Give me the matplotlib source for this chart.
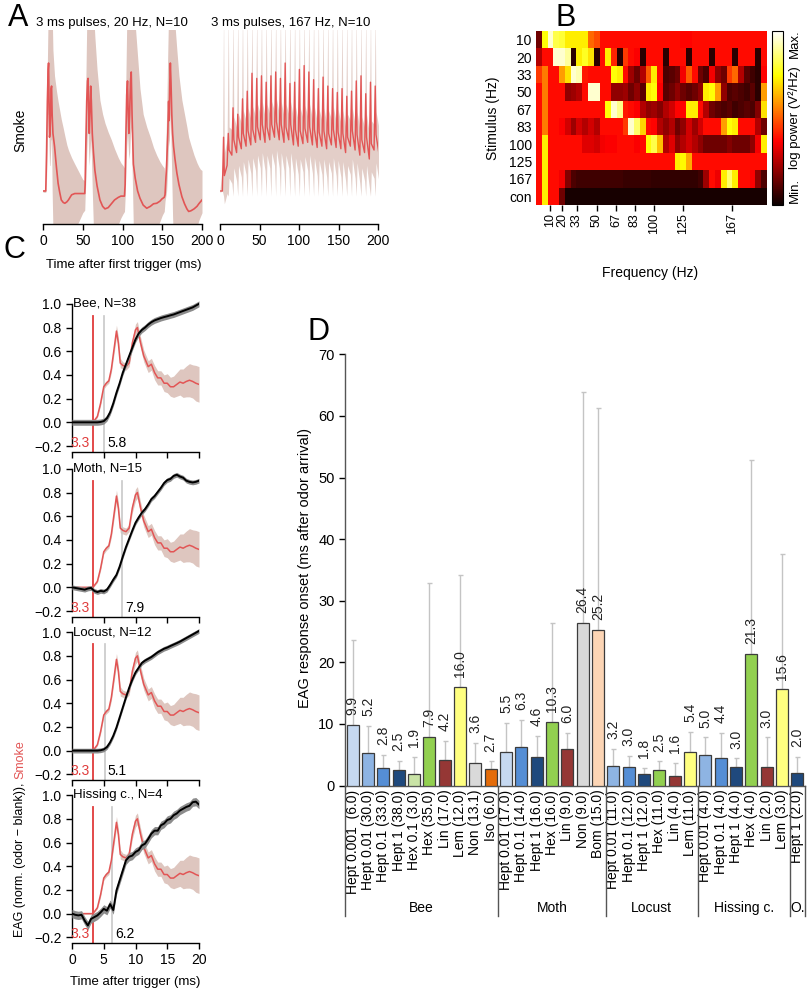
import numpy as np
import matplotlib.pyplot as plt
from matplotlib.ticker import FuncFormatter

plt.rcParams['font.family'] = ['Liberation Sans', 'DejaVu Sans']
plt.rcParams['axes.linewidth'] = 1.0
plt.rcParams['xtick.major.width'] = 1.0
plt.rcParams['ytick.major.width'] = 1.0
plt.rcParams['xtick.major.size'] = 4
plt.rcParams['ytick.major.size'] = 4

# ---------------- A: smoke, 20 Hz (mean, upper / lower edge of band) ----------------
a20_t = [0, 3.5, 4.5, 5.5, 6.5, 7.0, 7.6, 8.2, 8.8, 9.5, 10.2, 10.8, 11.5, 12.5, 14.5, 17, 19, 21, 23, 25.5,
         27.5, 30, 32, 36, 40, 45, 50, 52.5,
         53.0, 54.0, 55.0, 56.0, 56.7, 57.4, 58.2, 59.0, 60.0, 60.8, 62.0, 63.5, 65.3, 68, 71.6, 75, 78, 82,
         86, 90, 94.7, 98, 100.5, 102.5,
         103.3, 104.3, 105.3, 106.3, 107.2, 108.0, 109.0, 110.0, 111.0, 112.0, 113.7, 116, 119, 122, 126,
         130.5, 135, 139, 143, 147, 150, 152.5,
         153.5, 155.5, 157, 158, 158.7, 159.5, 160.2, 161, 162, 163, 164.2, 166, 168.4, 171, 174.7, 178, 181,
         183.2, 186, 190, 193.7, 196, 198, 200]
a20_mean = [0, 0, 0.3, 0.7, 0.95, 1.0, 0.7, 0.42, 0.45, 0.6, 0.8, 0.82, 0.6, 0.45, 0.35, 0.18, 0.06, -0.01, -0.07,
            -0.09, -0.096, -0.085, -0.07, -0.03, -0.02, -0.02, -0.02, -0.02,
            0.05, 0.4, 0.7, 0.86, 0.88, 0.65, 0.45, 0.6, 0.82, 0.7, 0.45, 0.3, 0.16, 0.04, -0.07, -0.12, -0.14,
            -0.13, -0.1, -0.07, -0.05, -0.04, -0.04, -0.04,
            0.05, 0.45, 0.75, 0.86, 0.6, 0.45, 0.6, 0.85, 0.93, 0.6, 0.21, 0.1, 0.0, -0.057, -0.11, -0.135,
            -0.12, -0.1, -0.096, -0.08, -0.06, -0.05,
            -0.03, 0.2, 0.45, 0.7, 0.55, 0.85, 1.0, 0.85, 0.6, 0.45, 0.35, 0.25, 0.14, 0.05, -0.044, -0.1,
            -0.14, -0.16, -0.155, -0.14, -0.12, -0.1, -0.085, -0.07]
a20_hi = [0.01, 0.01, 0.5, 1.0, 1.4, 1.4, 1.4, 1.4, 1.4, 1.4, 1.4, 1.4, 1.4, 1.1, 0.9, 0.78, 0.7, 0.63, 0.56,
          0.49, 0.43, 0.36, 0.32, 0.26, 0.21, 0.15, 0.09, 0.08,
          0.2, 0.9, 1.3, 1.4, 1.4, 1.4, 1.4, 1.4, 1.4, 1.4, 1.4, 1.4, 1.2, 0.95, 0.71, 0.6, 0.53, 0.46, 0.4,
          0.33, 0.26, 0.22, 0.2, 0.18,
          0.2, 0.9, 1.3, 1.4, 1.4, 1.4, 1.4, 1.4, 1.4, 1.4, 1.4, 1.3, 1.05, 0.8, 0.6, 0.5, 0.42, 0.34, 0.28,
          0.23, 0.2, 0.18,
          0.1, 0.6, 1.1, 1.4, 1.4, 1.4, 1.4, 1.4, 1.4, 1.4, 1.4, 1.3, 1.1, 0.9, 0.71, 0.6, 0.5, 0.42, 0.36,
          0.28, 0.22, 0.19, 0.17, 0.16]
a20_lo = [-0.01, -0.01, 0.1, 0.4, 0.6, 0.6, 0.35, 0.2, 0.2, 0.3, 0.4, 0.4, 0.0, -0.3, -0.4, -0.4, -0.4, -0.4,
          -0.4, -0.4, -0.4, -0.4, -0.38, -0.35, -0.3, -0.24, -0.17, -0.15,
          -0.05, 0.1, 0.3, 0.45, 0.45, 0.3, 0.2, 0.3, 0.4, 0.3, 0.0, -0.3, -0.4, -0.4, -0.4, -0.4, -0.4,
          -0.4, -0.38, -0.32, -0.26, -0.21, -0.18, -0.16,
          -0.05, 0.15, 0.35, 0.45, 0.35, 0.25, 0.3, 0.45, 0.5, 0.2, -0.3, -0.4, -0.4, -0.4, -0.4, -0.4,
          -0.4, -0.36, -0.3, -0.24, -0.19, -0.16,
          -0.08, 0.0, 0.2, 0.4, 0.35, 0.5, 0.6, 0.4, 0.1, -0.2, -0.4, -0.4, -0.4, -0.4, -0.4, -0.4, -0.4,
          -0.4, -0.4, -0.35, -0.28, -0.23, -0.2, -0.17]

# ---------------- A: smoke, 167 Hz (value before each pulse, peak of each pulse) ----------------
a167_period = 6.0
a167_first = 3.0
a167_trough = [0.0, 0.2, 0.28, 0.3, 0.33, 0.35, 0.36, 0.38, 0.4, 0.38, 0.4, 0.42, 0.4, 0.38, 0.4, 0.36, 0.35,
               0.37, 0.38, 0.36, 0.34, 0.35, 0.33, 0.36, 0.34, 0.33, 0.3, 0.35, 0.32, 0.28, 0.3, 0.25, 0.32, 0.3]
a167_peak = [0.42, 0.45, 0.65, 0.6, 0.72, 0.78, 0.92, 0.88, 0.9, 0.85, 0.9, 0.93, 0.88, 1.0, 0.84, 0.85, 0.95,
             0.98, 0.93, 0.87, 0.8, 0.89, 0.82, 0.8, 0.77, 0.8, 0.74, 0.78, 0.86, 0.9, 0.76, 0.85, 0.82]

# ---------------- B: power spectra (0 = min, 1 = max), columns every 5 Hz from 0 Hz ----------------
b_rows = ['10', '20', '33', '50', '67', '83', '100', '125', '167', 'con']
b_freq_ticks = [10, 20, 33, 50, 67, 83, 100, 125, 167]
b_bin = 5.0
b_10 = [0.15, 0.75, 0.95, 0.82, 0.80, 0.72, 0.72, 0.72, 0.72, 0.52, 0.48, 0.38, 0.38, 0.38, 0.38, 0.38, 0.38,
        0.38, 0.38, 0.38, 0.38, 0.38, 0.38, 0.38, 0.38, 0.37, 0.37, 0.38, 0.38, 0.38, 0.38, 0.38, 0.38, 0.38,
        0.38, 0.38, 0.38, 0.38, 0.38, 0.38]
b_20 = [0.25, 0.38, 0.38, 0.95, 0.95, 0.90, 0.05, 0.72, 0.78, 0.70, 0.05, 0.38, 0.72, 0.42, 0.05, 0.45, 0.38,
        0.36, 0.05, 0.38, 0.38, 0.38, 0.05, 0.38, 0.38, 0.38, 0.05, 0.38, 0.38, 0.38, 0.05, 0.38, 0.38, 0.38,
        0.05, 0.38, 0.38, 0.38, 0.05, 0.38]
b_33 = [0.45, 0.55, 0.38, 0.38, 0.60, 0.70, 0.95, 0.92, 0.40, 0.38, 0.38, 0.38, 0.38, 0.75, 0.72, 0.38, 0.22,
        0.15, 0.25, 0.50, 0.72, 0.38, 0.10, 0.12, 0.15, 0.35, 0.50, 0.38, 0.15, 0.10, 0.35, 0.20, 0.15, 0.45,
        0.52, 0.25, 0.12, 0.08, 0.05, 0.37]
b_50 = [0.38, 0.55, 0.38, 0.38, 0.38, 0.20, 0.22, 0.25, 0.38, 0.95, 0.95, 0.38, 0.38, 0.20, 0.20, 0.22, 0.15,
        0.20, 0.12, 0.72, 0.75, 0.36, 0.12, 0.15, 0.20, 0.15, 0.12, 0.15, 0.20, 0.72, 0.75, 0.60, 0.20, 0.10,
        0.12, 0.10, 0.08, 0.12, 0.05, 0.60]
b_67 = [0.38, 0.55, 0.38, 0.38, 0.38, 0.38, 0.38, 0.38, 0.38, 0.38, 0.38, 0.38, 0.75, 0.95, 0.88, 0.40, 0.38,
        0.36, 0.25, 0.20, 0.22, 0.18, 0.25, 0.30, 0.37, 0.37, 0.72, 0.72, 0.38, 0.25, 0.15, 0.12, 0.10, 0.12,
        0.08, 0.10, 0.12, 0.10, 0.18, 0.70]
b_83 = [0.38, 0.55, 0.38, 0.38, 0.36, 0.30, 0.22, 0.30, 0.25, 0.30, 0.25, 0.38, 0.38, 0.38, 0.38, 0.45, 0.95,
        0.85, 0.68, 0.38, 0.37, 0.25, 0.20, 0.25, 0.15, 0.20, 0.30, 0.22, 0.30, 0.38, 0.38, 0.38, 0.60, 0.75,
        0.72, 0.38, 0.38, 0.38, 0.25, 0.15]
b_100 = [0.38, 0.72, 0.38, 0.38, 0.38, 0.38, 0.38, 0.38, 0.32, 0.32, 0.30, 0.35, 0.36, 0.36, 0.38, 0.38, 0.38,
         0.36, 0.38, 0.75, 0.82, 0.65, 0.25, 0.32, 0.20, 0.25, 0.30, 0.25, 0.20, 0.15, 0.15, 0.15, 0.15, 0.18,
         0.15, 0.15, 0.15, 0.20, 0.35, 0.72]
b_125 = [0.38, 0.72, 0.38, 0.38, 0.38, 0.38, 0.38, 0.38, 0.38, 0.38, 0.38, 0.38, 0.38, 0.38, 0.38, 0.38, 0.38,
         0.38, 0.38, 0.38, 0.38, 0.38, 0.38, 0.38, 0.72, 0.74, 0.62, 0.38, 0.38, 0.38, 0.38, 0.38, 0.38, 0.38,
         0.38, 0.38, 0.38, 0.38, 0.38, 0.38]
b_167 = [0.38, 0.72, 0.38, 0.38, 0.35, 0.18, 0.10, 0.08, 0.08, 0.08, 0.08, 0.08, 0.08, 0.08, 0.08, 0.07, 0.07,
         0.07, 0.07, 0.07, 0.06, 0.06, 0.06, 0.06, 0.06, 0.06, 0.06, 0.06, 0.08, 0.22, 0.38, 0.34, 0.72, 0.85,
         0.72, 0.38, 0.38, 0.36, 0.20, 0.10]
b_con = [0.38, 0.72, 0.38, 0.38, 0.15, 0.02, 0.02, 0.02, 0.02, 0.02, 0.02, 0.02, 0.02, 0.02, 0.02, 0.02, 0.02,
         0.02, 0.02, 0.02, 0.02, 0.02, 0.02, 0.02, 0.02, 0.02, 0.02, 0.02, 0.02, 0.02, 0.02, 0.02, 0.02, 0.02,
         0.02, 0.02, 0.02, 0.02, 0.02, 0.02]

# ---------------- C: smoke vs EAG, first 20 ms ----------------
c_smoke_t = [0, 3.3, 4.0, 4.5, 5.0, 5.4, 5.8, 6.2, 6.6, 7.0, 7.3, 7.6, 8.0, 8.5, 9.0, 9.5, 10.0, 10.3, 10.8,
             11.3, 12.0, 12.5, 13.0, 13.5, 14.0, 14.5, 15.0, 15.5, 16.0, 16.5, 17.0, 17.5, 18.0, 18.5, 19.0,
             19.5, 20.0]
c_smoke = [0, 0, 0.05, 0.16, 0.3, 0.33, 0.35, 0.45, 0.61, 0.77, 0.67, 0.5, 0.48, 0.47, 0.5, 0.67, 0.78, 0.80,
           0.67, 0.56, 0.47, 0.49, 0.42, 0.375, 0.375, 0.33, 0.33, 0.30, 0.30, 0.32, 0.34, 0.33, 0.345, 0.355,
           0.345, 0.33, 0.32]
c_smoke_sd = [0.005, 0.005, 0.01, 0.02, 0.02, 0.02, 0.02, 0.03, 0.04, 0.05, 0.05, 0.04, 0.03, 0.03, 0.03, 0.04,
              0.05, 0.05, 0.05, 0.05, 0.05, 0.05, 0.06, 0.06, 0.06, 0.07, 0.08, 0.08, 0.09, 0.1, 0.11, 0.12,
              0.13, 0.14, 0.14, 0.15, 0.15]

c_eag_t = np.arange(0, 20.01, 0.5)
c_species = ['Bee, N=38', 'Moth, N=15', 'Locust, N=12', 'Hissing c., N=4']
c_bee = [0, 0, 0, 0, 0, 0, 0, 0, 0, 0.003, 0.01, 0.035, 0.085, 0.16, 0.25, 0.33, 0.42, 0.49, 0.56, 0.63, 0.70,
         0.75, 0.78, 0.80, 0.825, 0.845, 0.86, 0.87, 0.88, 0.888, 0.895, 0.903, 0.91, 0.92, 0.93, 0.94, 0.95,
         0.96, 0.97, 0.985, 1.0]
c_moth = [0, -0.005, -0.01, -0.015, -0.02, -0.01, -0.005, -0.03, -0.04, -0.03, -0.035, -0.02, 0.02, 0.065, 0.105,
          0.175, 0.26, 0.34, 0.41, 0.48, 0.545, 0.59, 0.63, 0.66, 0.70, 0.745, 0.77, 0.805, 0.84, 0.88, 0.905,
          0.915, 0.94, 0.95, 0.935, 0.925, 0.9, 0.89, 0.885, 0.89, 0.9]
c_locust = [0, 0, 0, 0, 0, 0, 0, 0, 0, 0.003, 0.01, 0.03, 0.07, 0.125, 0.195, 0.28, 0.365, 0.45, 0.53, 0.60,
            0.66, 0.70, 0.74, 0.76, 0.775, 0.79, 0.81, 0.83, 0.845, 0.86, 0.87, 0.883, 0.895, 0.907, 0.92,
            0.935, 0.95, 0.965, 0.98, 0.995, 1.01]
c_hissing = [0, -0.01, -0.015, -0.01, -0.06, -0.1, -0.045, -0.03, -0.015, 0.01, 0.04, 0.025, 0.08, 0.03, 0.195,
             0.28, 0.365, 0.45, 0.48, 0.49, 0.52, 0.535, 0.575, 0.59, 0.63, 0.675, 0.70, 0.70, 0.745, 0.76,
             0.79, 0.80, 0.83, 0.845, 0.87, 0.885, 0.9, 0.91, 0.94, 0.945, 0.92]
c_eag_sd = [0.025, 0.02, 0.02, 0.035]
c_smoke_onset = 3.3
c_onset_line = [5.1, 7.9, 5.2, 6.3]
c_onset_text = ['5.8', '7.9', '5.1', '6.2']

# ---------------- D: response onset ----------------
d_groups = ['Bee', 'Moth', 'Locust', 'Hissing c.', 'O.']
d_group_sizes = [10, 7, 6, 6, 1]
d_labels = ['Hept 0.001  (6.0)', 'Hept 0.01 (30.0)', 'Hept 0.1 (33.0)', 'Hept 1 (38.0)', 'Hex 0.1 (3.0)',
            'Hex (35.0)', 'Lin (17.0)', 'Lem (12.0)', 'Non (13.1)', 'Iso (6.0)',
            'Hept 0.01 (17.0)', 'Hept 0.1 (14.0)', 'Hept 1 (16.0)', 'Hex (16.0)', 'Lin (9.0)', 'Non (9.0)',
            'Bom (15.0)',
            'Hept 0.01 (11.0)', 'Hept 0.1 (12.0)', 'Hept 1 (12.0)', 'Hex (11.0)', 'Lin (4.0)', 'Lem (11.0)',
            'Hept 0.01 (4.0)', 'Hept 0.1 (4.0)', 'Hept 1 (4.0)', 'Hex (4.0)', 'Lin (2.0)', 'Lem (3.0)',
            'Hept 1 (2.0)']
d_values = [9.9, 5.2, 2.8, 2.5, 1.9, 7.9, 4.2, 16.0, 3.6, 2.7,
            5.5, 6.3, 4.6, 10.3, 6.0, 26.4, 25.2,
            3.2, 3.0, 1.8, 2.5, 1.6, 5.4,
            5.0, 4.4, 3.0, 21.3, 3.0, 15.6,
            2.0]
d_err_top = [23.7, 9.7, 5.0, 4.0, 4.6, 32.9, 7.2, 34.1, 6.85, 3.9,
             10.2, 10.6, 8.0, 26.4, 8.5, 63.9, 61.3,
             5.9, 4.85, 2.9, 3.9, 3.7, 8.7,
             7.8, 8.6, 4.4, 52.9, 7.8, 37.6,
             4.6]
d_colors = ['#c6d9f1', '#8eb4e3', '#558ed5', '#1f497d', '#c9e3a6', '#92d050', '#953735', '#ffff80', '#d9d9d9',
            '#e46c0a',
            '#c6d9f1', '#558ed5', '#1f497d', '#92d050', '#953735', '#d9d9d9', '#fcd5b5',
            '#8eb4e3', '#558ed5', '#1f497d', '#92d050', '#953735', '#ffff80',
            '#8eb4e3', '#558ed5', '#1f497d', '#92d050', '#953735', '#ffff80',
            '#1f497d']

# ---------------- figure ----------------
W, H = 807, 992
fig = plt.figure(figsize=(W / 100, H / 100), dpi=100)
RED = '#e25555'
BAND = '#dec6bf'


def add_ax(x0, y0, x1, y1):
    return fig.add_axes([x0 / W, 1 - y1 / H, (x1 - x0) / W, (y1 - y0) / H])


def ftext(x, y, s, **kw):
    return fig.text(x / W, 1 - y / H, s, **kw)


def only_bottom(ax):
    for side in ['left', 'right', 'top']:
        ax.spines[side].set_visible(False)
    ax.set_yticks([])


# A, 20 Hz
axA1 = add_ax(43, 30, 202, 224)
axA1.fill_between(a20_t, a20_lo, a20_hi, color=BAND, lw=0)
axA1.plot(a20_t, a20_mean, color=RED, lw=1.2)
axA1.set_xlim(0, 200)
axA1.set_ylim(-0.258, 1.258)
axA1.set_xticks([0, 50, 100, 150, 200])
axA1.tick_params(labelsize=10)
only_bottom(axA1)

# A, 167 Hz
t167, m167, hi167, lo167 = [0.0], [0.0], [0.01], [-0.01]
for k, pk in enumerate(a167_peak):
    t0 = a167_first + k * a167_period
    tr = a167_trough[k]
    t167 += [t0, t0 + 1.5, t0 + 2.5]
    m167 += [tr, pk, tr + 0.12]
    hi167 += [tr + 0.2, 1.4, tr + 0.3]
    lo167 += [tr - 0.22, -0.04, tr - 0.1]
t167.append(a167_first + len(a167_peak) * a167_period)
m167.append(a167_trough[-1])
hi167.append(a167_trough[-1] + 0.2)
lo167.append(a167_trough[-1] - 0.22)
lo167[1] = 0.0

axA2 = add_ax(220, 30, 378, 224)
axA2.fill_between(t167, lo167, hi167, color=BAND, lw=0, alpha=0.85)
axA2.plot(t167, m167, color=RED, lw=1.0)
axA2.set_xlim(0, 200)
axA2.set_ylim(-0.258, 1.258)
axA2.set_xticks([0, 50, 100, 150, 200])
axA2.tick_params(labelsize=10)
only_bottom(axA2)

ftext(112, 23, '3 ms pulses, 20 Hz, N=10', ha='center', va='center', fontsize=9.5)
ftext(291, 23, '3 ms pulses, 167 Hz, N=10', ha='center', va='center', fontsize=9.5)
ftext(20, 130, 'Smoke', ha='center', va='center', rotation=90, fontsize=10)
ftext(124, 265, 'Time after first trigger (ms)', ha='center', va='center', fontsize=9.5)

# B
grid = np.array([b_10, b_20, b_33, b_50, b_67, b_83, b_100, b_125, b_167, b_con])
axB = add_ax(536, 31, 767, 205)
ncol = grid.shape[1]
im = axB.imshow(grid, cmap='hot', vmin=0, vmax=1, aspect='auto', interpolation='nearest',
                extent=(-b_bin / 2, ncol * b_bin - b_bin / 2, len(b_rows) - 0.5, -0.5))
axB.set_yticks(range(len(b_rows)))
axB.set_yticklabels(b_rows, fontsize=10)
axB.tick_params(axis='y', length=0, pad=3)
axB.set_xticks(b_freq_ticks)
axB.set_xticklabels([str(f) for f in b_freq_ticks], rotation=90, fontsize=9)
axB.tick_params(axis='x', length=4, pad=2)
for s in axB.spines.values():
    s.set_visible(False)
cax = add_ax(772, 31, 783, 205)
cb = fig.colorbar(im, cax=cax, ticks=[])
cb.outline.set_linewidth(0.8)
ftext(795, 44, 'Max.', rotation=90, ha='center', va='center', fontsize=9.5)
ftext(795, 118, 'log power (V²/Hz)', rotation=90, ha='center', va='center', fontsize=9.5)
ftext(795, 190, 'Min.', rotation=90, ha='center', va='center', fontsize=9.5)
ftext(493, 118, 'Stimulus (Hz)', rotation=90, ha='center', va='center', fontsize=10)
ftext(650, 273, 'Frequency (Hz)', ha='center', va='center', fontsize=10)

# C
c_traces = [c_bee, c_moth, c_locust, c_hissing]
c_bottoms = [451.7, 616.7, 780, 943]
minus_fmt = FuncFormatter(lambda v, pos: f'{v:.1f}'.replace('-', '\u2212'))
for i, (name, tr) in enumerate(zip(c_species, c_traces)):
    b = c_bottoms[i]
    ax = add_ax(72, b - 153.8, 199, b)
    sm = np.array(c_smoke)
    sd = np.array(c_smoke_sd)
    ax.fill_between(c_smoke_t, sm - sd, sm + sd, color=BAND, lw=0)
    ax.plot(c_smoke_t, c_smoke, color=RED, lw=1.1, zorder=3)
    tr = np.array(tr)
    ax.fill_between(c_eag_t, tr - c_eag_sd[i], tr + c_eag_sd[i], color='#8c8c8c', lw=0, zorder=4)
    ax.plot(c_eag_t, tr, color='black', lw=1.4, zorder=5)
    ax.plot([c_smoke_onset] * 2, [-0.3, 0.9], color='#e03c3c', lw=1.3, zorder=2)
    ax.plot([c_onset_line[i]] * 2, [-0.3, 0.9], color='#c8c8c8', lw=1.2, zorder=2)
    ax.text(c_smoke_onset - 0.45, -0.175, '3.3', color='#e03c3c', ha='right', va='center', fontsize=10)
    ax.text(c_onset_line[i] + 0.45, -0.175, c_onset_text[i], color='black', ha='left', va='center',
            fontsize=10)
    ax.text(0.2, 1.0, name, ha='left', va='center', fontsize=9.5)
    ax.set_xlim(0, 20)
    ax.set_ylim(-0.248, 1.05)
    ax.spines['top'].set_visible(False)
    ax.spines['right'].set_visible(False)
    ax.spines['left'].set_bounds(-0.2, 1.0)
    ax.set_yticks([-0.2, 0.0, 0.2, 0.4, 0.6, 0.8, 1.0])
    ax.yaxis.set_major_formatter(minus_fmt)
    ax.set_xticks([0, 5, 10, 15, 20])
    ax.tick_params(labelsize=10)
    if i < 3:
        ax.set_xticklabels([])
ftext(135, 982, 'Time after trigger (ms)', ha='center', va='center', fontsize=9.5)
lab1 = ftext(20, 937, 'EAG (norm. (odor \u2212 blank)), ', rotation=90, ha='center', va='bottom', fontsize=9)
fig.canvas.draw()
bb = lab1.get_window_extent()
fig.text(20 / W, bb.y1 / fig.bbox.height, 'Smoke', rotation=90, ha='center', va='bottom', fontsize=9,
         color=RED)

# D
axD = add_ax(345, 354.3, 805, 785.5)
n = len(d_values)
xs = np.arange(n) + 0.5
vals = np.array(d_values)
errs = np.array(d_err_top) - vals
axD.bar(xs, vals, width=0.8, color=d_colors, edgecolor='#3c3c3c', lw=0.9, zorder=3)
axD.errorbar(xs, vals, yerr=[np.zeros(n), errs], fmt='none', ecolor='#c4c4c4', elinewidth=1, capsize=1.8,
             capthick=1, zorder=2)
for x, v, e in zip(xs, vals, d_err_top):
    base = v if e - v > 12 else e
    axD.text(x, base + 1.6, f'{v:.1f}', rotation=90, ha='center', va='bottom', fontsize=10, color='#222222')
axD.set_xlim(0, n)
axD.set_ylim(0, 70)
axD.set_yticks(range(0, 71, 10))
axD.tick_params(axis='y', labelsize=10.5)
axD.set_xticks(xs)
axD.set_xticklabels(d_labels, rotation=90, fontsize=10)
axD.tick_params(axis='x', length=0, pad=3)
axD.spines['top'].set_visible(False)
axD.spines['right'].set_visible(False)
axD.spines['left'].set_color('#555555')
axD.spines['bottom'].set_color('#555555')
edges = np.concatenate([[0], np.cumsum(d_group_sizes)])
for e in edges:
    axD.plot([e, e], [0, -0.302], transform=axD.get_xaxis_transform(), color='#555555', lw=1.0,
             clip_on=False)
for g, a, b in zip(d_groups, edges[:-1], edges[1:]):
    axD.text((a + b) / 2, -0.283, g, transform=axD.get_xaxis_transform(), ha='center', va='center',
             fontsize=10)
ftext(305, 568, 'EAG response onset (ms after odor arrival)', rotation=90, ha='center', va='center',
      fontsize=10.5)

# panel letters
ftext(18, 18, 'A', fontsize=22, ha='center', va='center')
ftext(566, 18, 'B', fontsize=22, ha='center', va='center')
ftext(14, 250, 'C', fontsize=22, ha='center', va='center')
ftext(318, 332, 'D', fontsize=22, ha='center', va='center')

fig.savefig('out.png', dpi=100)
